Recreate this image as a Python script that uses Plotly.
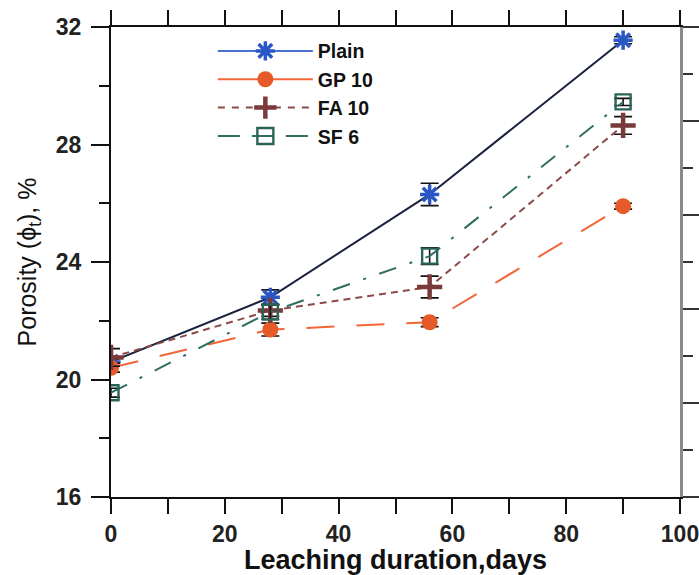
import plotly.graph_objects as go

# Leaching duration (days) and porosity (%) with error bars
days = [0, 28, 56, 90]

plain = [20.6, 22.8, 26.3, 31.55]
plain_err = [0.15, 0.25, 0.38, 0.12]

gp10 = [20.4, 21.7, 21.95, 25.9]
gp10_err = [0.15, 0.22, 0.15, 0.1]

fa10 = [20.75, 22.35, 23.15, 28.65]
fa10_err = [0.3, 0.2, 0.37, 0.3]

sf6 = [19.55, 22.3, 24.2, 29.45]
sf6_err = [0.15, 0.25, 0.28, 0.12]

x_ticks = [0, 20, 40, 60, 80, 100]
y_ticks = [16, 20, 24, 28, 32]

FONT = "Liberation Sans, Arial, sans-serif"

series = [
    # name, values, errors, line colour, line dash, legend line colour, legend dash,
    # marker symbol, marker colour, marker size, marker line width
    ("Plain", plain, plain_err, "#1b2240", "solid", "#4a70d0", "solid",
     "asterisk-open", "#2a56c6", 16, 3.5),
    ("GP 10", gp10, gp10_err, "#f2663a", "28px,22px", "#f2663a", "solid",
     "circle", "#e55a28", 16, 0),
    ("FA 10", fa10, fa10_err, "#8c4a4a", "7px,5px", "#8c4a4a", "7px,7px",
     "cross-thin-open", "#7a3a3a", 18, 4.5),
    ("SF 6", sf6, sf6_err, "#2f6e60", "18px,14px,3px,14px", "#2f6e60", "22px,12px",
     "square-open", "#2a6458", 15, 2.4),
]

fig = go.Figure()

for (name, vals, errs, lc, dash, llc, ldash, sym, mc, ms, mlw) in series:
    fig.add_trace(go.Scatter(
        x=days, y=vals, mode="lines+markers", name=name, showlegend=False,
        line=dict(color=lc, width=2, dash=dash),
        marker=dict(symbol=sym, color=mc, size=ms, line=dict(color=mc, width=mlw)),
        error_y=dict(type="data", array=errs, visible=True, color="#111111",
                     thickness=1.6, width=9),
    ))

# Legend entries
for (name, vals, errs, lc, dash, llc, ldash, sym, mc, ms, mlw) in series:
    fig.add_trace(go.Scatter(
        x=[None], y=[None], mode="lines+markers", name=name,
        line=dict(color=llc, width=2, dash=ldash),
        marker=dict(symbol=sym, color=mc, size=16, line=dict(color=mc, width=mlw)),
    ))

# Right-hand frame axis (unlabelled)
fig.add_trace(go.Scatter(x=[None], y=[None], yaxis="y2", showlegend=False))

fig.update_layout(
    width=699, height=575,
    margin=dict(l=111, r=19, t=27, b=78, autoexpand=False),
    paper_bgcolor="white", plot_bgcolor="white",
    font=dict(family=FONT, color="#111111"),
    showlegend=True,
    legend=dict(
        x=0.179, y=0.99, xanchor="left", yanchor="top",
        bgcolor="rgba(0,0,0,0)", itemwidth=95,
        font=dict(family=FONT, size=19.5, color="#111111", weight="bold"),
    ),
    xaxis=dict(
        range=[0, 100], tickvals=x_ticks, automargin=False,
        ticklabeloverflow="allow",
        showgrid=False, zeroline=False,
        showline=True, linecolor="#111111", linewidth=2, mirror="allticks",
        ticks="outside", ticklen=15, tickwidth=2, tickcolor="#111111",
        minor=dict(dtick=10, ticks="outside", ticklen=7, tickwidth=2, tickcolor="#111111"),
        tickfont=dict(family=FONT, size=23, color="#222222", weight="bold"),
        title=dict(text="Leaching duration,days", standoff=4,
                   font=dict(family=FONT, size=27, color="#111111", weight="bold")),
    ),
    yaxis=dict(
        range=[16, 32], tickvals=y_ticks, automargin=False,
        showgrid=False, zeroline=False,
        showline=True, linecolor="#111111", linewidth=2,
        ticks="outside", ticklen=18, tickwidth=2, tickcolor="#111111",
        minor=dict(dtick=2, ticks="outside", ticklen=10, tickwidth=2, tickcolor="#111111"),
        tickfont=dict(family=FONT, size=23, color="#222222", weight="bold"),
        ticklabelstandoff=5,
        title=dict(text="Porosity (\u03d5<sub>t</sub>), %", standoff=12,
                   font=dict(family=FONT, size=25, color="#111111")),
    ),
    yaxis2=dict(
        overlaying="y", side="right", range=[0, 5], dtick=1, automargin=False,
        showgrid=False, zeroline=False, showticklabels=False,
        showline=True, linecolor="#8a8a8a", linewidth=3,
        ticks="outside", ticklen=19, tickwidth=2, tickcolor="#333333",
        minor=dict(dtick=0.5, ticks="outside", ticklen=10, tickwidth=2, tickcolor="#333333"),
    ),
)

fig.write_html("out.html")
